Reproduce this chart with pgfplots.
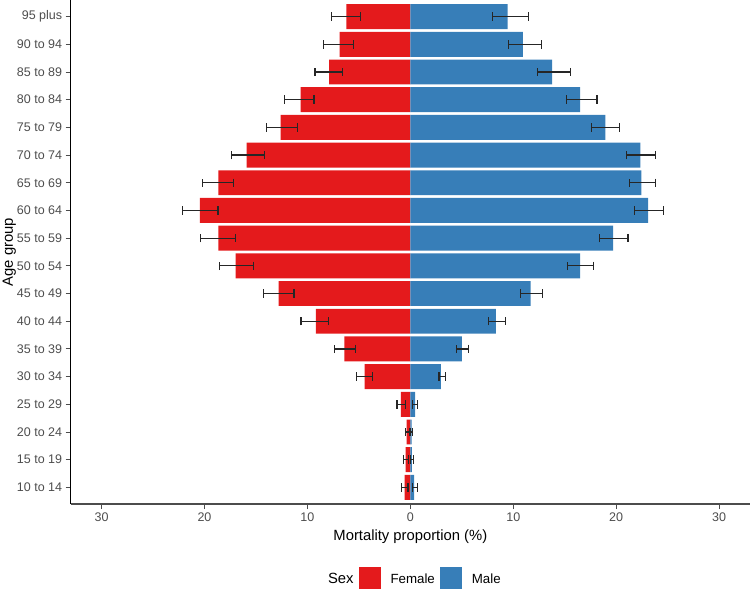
\documentclass[border=0pt]{standalone}
\usepackage{fontspec}
\setmainfont{Liberation Sans}
\usepackage{pgfplots}
\usepackage{pgfplotstable}
\pgfplotsset{compat=1.18}

\definecolor{fem}{HTML}{E41A1C}
\definecolor{mal}{HTML}{377EB8}
\definecolor{txtgray}{HTML}{4D4D4D}

% age index, female (negative), male, female CI, male CI
\pgfplotstableread{
y f m flo fhi mlo mhi
1 -0.56 0.37 -0.88 -0.23 0.19 0.70
2 -0.46 0.14 -0.65 -0.19 0.00 0.32
3 -0.37 0.12 -0.46 -0.09 0.00 0.23
4 -0.93 0.46 -1.30 -0.46 0.23 0.70
5 -4.45 2.97 -5.24 -3.66 2.78 3.38
6 -6.40 5.01 -7.37 -5.33 4.50 5.66
7 -9.18 8.30 -10.62 -7.97 7.60 9.23
8 -12.80 11.68 -14.23 -11.31 10.71 12.84
9 -16.97 16.50 -18.54 -15.21 15.30 17.76
10 -18.64 19.70 -20.35 -17.01 18.36 21.14
11 -20.45 23.09 -22.11 -18.68 21.79 24.62
12 -18.64 22.44 -20.21 -17.15 21.28 23.83
13 -15.90 22.35 -17.34 -14.19 21.00 23.78
14 -12.61 18.96 -13.95 -10.99 17.62 20.31
15 -10.66 16.50 -12.19 -9.36 15.21 18.13
16 -7.88 13.77 -9.27 -6.63 12.33 15.53
17 -6.86 10.94 -8.44 -5.52 9.50 12.75
18 -6.21 9.46 -7.65 -4.82 8.02 11.45
}\mortality

\begin{document}
\begin{tikzpicture}
\begin{axis}[
  scale only axis,
  width=679.3pt, height=504pt,
  xmin=-33, xmax=33,
  ymin=0.4, ymax=18.6,
  axis x line*=bottom, axis y line*=left,
  x axis line style={draw=black!70, line width=1.6pt, -},
  y axis line style={draw=black, line width=0.9pt, -},
  tick align=outside,
  major tick length=5pt,
  tick style={draw=black!70, line width=0.9pt},
  xtick={-30,-20,-10,0,10,20,30},
  xticklabels={30,20,10,0,10,20,30},
  ytick={1,...,18},
  yticklabels={10 to 14,15 to 19,20 to 24,25 to 29,30 to 34,35 to 39,40 to 44,45 to 49,50 to 54,55 to 59,60 to 64,65 to 69,70 to 74,75 to 79,80 to 84,85 to 89,90 to 94,95 plus},
  /pgf/number format/assume math mode=true,
  ticklabel style={font=\fontsize{12.5}{14}\selectfont, text=txtgray},
  xlabel={Mortality proportion (\%)},
  ylabel={Age group},
  label style={font=\fontsize{14.8}{17}\selectfont},
  xlabel style={yshift=-2pt},
  ylabel style={at={(axis description cs:-0.1005,0.5)}, anchor=north, inner sep=0pt},
  xbar, bar width=0.9, bar shift=0pt,
  legend style={at={(axis description cs:0.5,0)}, anchor=center, yshift=-75pt,
    draw=none, fill=none, legend columns=-1,
    font=\fontsize{13.3}{15}\selectfont,
    /tikz/every odd column/.append style={column sep=8pt},
    /tikz/every even column/.append style={column sep=3pt}},
  clip=false,
]
\addlegendimage{empty legend}
\addlegendentry{\fontsize{14.8}{17}\selectfont Sex}
\addplot[draw=none, fill=fem,
  legend image code/.code={\fill[fem] (0pt,-12pt) rectangle (22pt,12pt);}]
  table[x=f, y=y] {\mortality};
\addlegendentry{Female}
\addplot[draw=none, fill=mal,
  legend image code/.code={\fill[mal] (0pt,-12pt) rectangle (22pt,12pt);}]
  table[x=m, y=y] {\mortality};
\addlegendentry{Male}

\addplot[forget plot, draw=none, mark=none, xbar=false,
  error bars/.cd, x dir=both, x explicit, error mark=|,
  error bar style={draw=black!85, line width=1.2pt},
  error mark options={draw=black!85, mark size=4.2pt, line width=1.2pt}]
  table[x expr=(\thisrow{flo}+\thisrow{fhi})/2, y=y,
        x error expr=(\thisrow{fhi}-\thisrow{flo})/2] {\mortality};
\addplot[forget plot, draw=none, mark=none, xbar=false,
  error bars/.cd, x dir=both, x explicit, error mark=|,
  error bar style={draw=black!85, line width=1.2pt},
  error mark options={draw=black!85, mark size=4.2pt, line width=1.2pt}]
  table[x expr=(\thisrow{mlo}+\thisrow{mhi})/2, y=y,
        x error expr=(\thisrow{mhi}-\thisrow{mlo})/2] {\mortality};
\end{axis}
\pgfresetboundingbox
\path[use as bounding box] (-70.7pt,-85pt) rectangle (679.3pt,504pt);
\end{tikzpicture}
\end{document}
